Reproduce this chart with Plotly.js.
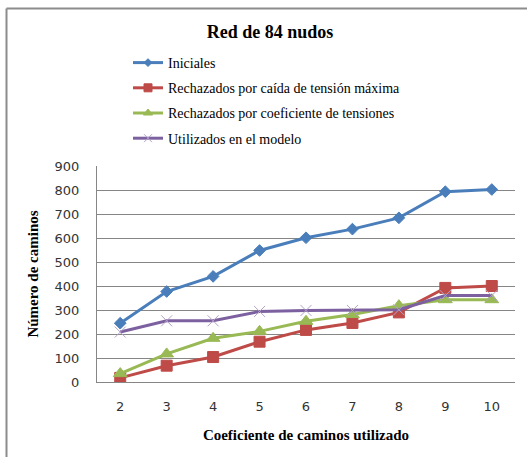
<!DOCTYPE html>
<html><head><meta charset="utf-8">
<script src="https://cdn.plot.ly/plotly-3.0.1.min.js"></script>
<style>html,body{margin:0;padding:0;background:#fff}#c{width:527px;height:457px}</style>
</head><body><div id="c"></div>
<script>
const categories = ['2','3','4','5','6','7','8','9','10'];
const seriesNames = ['Iniciales','Rechazados por caída de tensión máxima','Rechazados por coeficiente de tensiones','Utilizados en el modelo'];
const iniciales = [245, 377, 440, 548, 601, 637, 684, 793, 802];
const rechazadosCaida = [17, 68, 104, 168, 217, 246, 290, 392, 400];
const rechazadosCoef = [35, 117, 182, 211, 253, 281, 318, 343, 343];
const utilizados = [208, 255, 255, 294, 298, 298, 301, 360, 360];
const yTicks = [0,100,200,300,400,500,600,700,800,900];

const serif = 'Liberation Serif, Times New Roman, serif';
const sans = 'DejaVu Sans, sans-serif';
const styles = [
  {color:'#4A7EBB', symbol:'diamond', size:9, lsize:6},
  {color:'#BE4B48', symbol:'square', size:11, lsize:8},
  {color:'#98B954', symbol:'triangle-up', size:12, lsize:8},
  {color:'#7D60A0', symbol:'x-thin-open', size:11, lsize:8, mcolor:'#B3A2C7'}
];
const values = [iniciales, rechazadosCaida, rechazadosCoef, utilizados];
const data = [];
values.forEach((v,i)=>{
  const mc = styles[i].mcolor||styles[i].color;
  data.push({
    type:'scatter', mode:'lines+markers', x:categories, y:v, name:seriesNames[i],
    showlegend:false,
    line:{color:styles[i].color, width:3},
    marker:{symbol:styles[i].symbol, size:styles[i].size, color:mc, line:{color:mc, width:1}}
  });
});
values.forEach((v,i)=>{
  const mc = styles[i].mcolor||styles[i].color;
  data.push({
    type:'scatter', mode:'lines+markers', x:[null], y:[null], name:seriesNames[i],
    legendgroup:'g'+i, showlegend:true,
    line:{color:styles[i].color, width:3},
    marker:{symbol:styles[i].symbol, size:styles[i].lsize, color:mc, line:{color:mc, width:1}}
  });
});

const layout = {
  width:527, height:457,
  margin:{l:97, r:12, t:166, b:75},
  paper_bgcolor:'#fff', plot_bgcolor:'#fff',
  title:{text:'<b>Red de 84 nudos</b>', font:{family:serif, size:18, color:'#000'},
         x:270/527, xref:'container', xanchor:'center', y:1-32/457, yref:'container', yanchor:'middle'},
  showlegend:true,
  legend:{x:(128-97)/418, xanchor:'left', y:1+(166-47)/216, yanchor:'top', bgcolor:'rgba(0,0,0,0)',
          font:{family:serif, size:14, color:'#000'}, traceorder:'grouped', tracegroupgap:4, itemwidth:30},
  xaxis:{type:'category', range:[-0.5,8.5], showgrid:false, showline:true, linecolor:'#868686', linewidth:1,
         ticks:'', tickfont:{family:sans, size:13, color:'#333'}, ticklabelstandoff:12,
         title:{text:'<b>Coeficiente de caminos utilizado</b>', font:{family:serif, size:15, color:'#000'}, standoff:16},
         fixedrange:true},
  yaxis:{range:[0,900], tickvals:yTicks, ticktext:yTicks.map(String), showgrid:true, gridcolor:'#868686', gridwidth:1,
         showline:true, linecolor:'#868686', linewidth:1, zeroline:false, ticks:'',
         tickfont:{family:sans, size:13, color:'#333'}, ticklabelstandoff:14,
         title:{text:'<b>Número de caminos</b>', font:{family:serif, size:15, color:'#000'}, standoff:12},
         fixedrange:true},
  shapes:[
    {type:'line', xref:'paper', yref:'paper', x0:-(97-6.5)/418, x1:2, y0:1+(166-8.5)/216, y1:1+(166-8.5)/216, line:{color:'#8c8c8c', width:2}},
    {type:'line', xref:'paper', yref:'paper', x0:-(97-6.5)/418, x1:-(97-6.5)/418, y0:1+(166-8.5)/216, y1:-2, line:{color:'#8c8c8c', width:2}}
  ]
};
Plotly.newPlot('c', data, layout, {displayModeBar:false, staticPlot:true});
</script></body></html>
